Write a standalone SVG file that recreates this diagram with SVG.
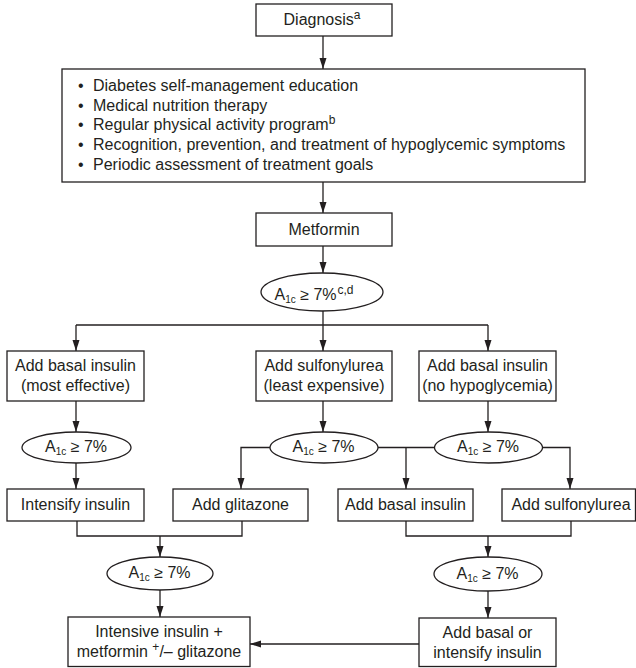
<svg xmlns="http://www.w3.org/2000/svg" width="636" height="668" viewBox="0 0 636 668">
  <defs>
    <style>
      .box { fill: #fff; stroke: #231f20; stroke-width: 1.3; }
      .dec { fill: #fff; stroke: #231f20; stroke-width: 1.3; }
      .t { font-family: "Liberation Sans", Arial, sans-serif; font-size: 16px; fill: #231f20; }
      .c { text-anchor: middle; }
      .wire { fill: none; stroke: #231f20; stroke-width: 1.3; }
      .sub { font-size: 10px; }
      .sup { font-size: 12px; }
    </style>
    <marker id="arrow" markerUnits="userSpaceOnUse" markerWidth="11" markerHeight="8" refX="11" refY="4" orient="auto">
      <path d="M0,0.5 L11,4 L0,7.5 z" fill="#231f20"/>
    </marker>
  </defs>

  <!-- connectors -->
  <g id="connectors" class="wire">
    <path d="M323,36 V69" marker-end="url(#arrow)"/>
    <path d="M323,182 V213" marker-end="url(#arrow)"/>
    <path d="M323,246 V273" marker-end="url(#arrow)"/>
    <path d="M323,311 V325"/>
    <path d="M76,325 H488"/>
    <path d="M76,325 V351" marker-end="url(#arrow)"/>
    <path d="M323,325 V351" marker-end="url(#arrow)"/>
    <path d="M488,325 V351" marker-end="url(#arrow)"/>
    <path d="M76,401 V432" marker-end="url(#arrow)"/>
    <path d="M323,401 V432" marker-end="url(#arrow)"/>
    <path d="M488,401 V432" marker-end="url(#arrow)"/>
    <path d="M76,463 V489" marker-end="url(#arrow)"/>
    <path d="M270,447.5 H241 V489" marker-end="url(#arrow)"/>
    <path d="M378,447.5 H435"/>
    <path d="M406,447.5 V489" marker-end="url(#arrow)"/>
    <path d="M542,447.5 H570 V489" marker-end="url(#arrow)"/>
    <path d="M77,521 V536 H242 V521"/>
    <path d="M160,536 V557" marker-end="url(#arrow)"/>
    <path d="M406,521 V536 H571 V521"/>
    <path d="M488,536 V557" marker-end="url(#arrow)"/>
    <path d="M160,590 V617" marker-end="url(#arrow)"/>
    <path d="M488,591 V618" marker-end="url(#arrow)"/>
    <path d="M419,644 H250" marker-end="url(#arrow)"/>
  </g>

  <g id="diagnosis">
    <rect class="box" x="256" y="4" width="136" height="32"/>
    <text class="t c" x="322" y="25">Diagnosis<tspan class="sup" dy="-6">a</tspan></text>
  </g>

  <g id="lifestyle">
    <rect class="box" x="62" y="69" width="523" height="113"/>
    <text class="t" x="78" y="91">•</text>
    <text class="t" x="93" y="91">Diabetes self-management education</text>
    <text class="t" x="78" y="110.7">•</text>
    <text class="t" x="93" y="110.7">Medical nutrition therapy</text>
    <text class="t" x="78" y="130.4">•</text>
    <text class="t" x="93" y="130.4">Regular physical activity program<tspan class="sup" dy="-6">b</tspan></text>
    <text class="t" x="78" y="150.1">•</text>
    <text class="t" x="93" y="150.1">Recognition, prevention, and treatment of hypoglycemic symptoms</text>
    <text class="t" x="78" y="169.8">•</text>
    <text class="t" x="93" y="169.8">Periodic assessment of treatment goals</text>
  </g>

  <g id="metformin">
    <rect class="box" x="256" y="213" width="136" height="33"/>
    <text class="t c" x="324" y="235">Metformin</text>
  </g>

  <g id="check-1">
    <ellipse class="dec" cx="322" cy="292" rx="61" ry="19"/>
    <text class="t c" x="314" y="300">A<tspan class="sub" dy="3">1c</tspan><tspan dy="-3"> ≥ 7%</tspan><tspan class="sup" dx="1" dy="-6">c,d</tspan></text>
  </g>

  <g id="basal-effective">
    <rect class="box" x="7" y="351" width="137" height="50"/>
    <text class="t c" x="75.5" y="371">Add basal insulin</text>
    <text class="t c" x="75.5" y="391">(most effective)</text>
  </g>

  <g id="sulfonylurea-cheap">
    <rect class="box" x="256" y="351" width="136" height="50"/>
    <text class="t c" x="324" y="371">Add sulfonylurea</text>
    <text class="t c" x="324" y="391">(least expensive)</text>
  </g>

  <g id="basal-nohypo">
    <rect class="box" x="419" y="351" width="137" height="50"/>
    <text class="t c" x="487.5" y="371">Add basal insulin</text>
    <text class="t c" x="487.5" y="391">(no hypoglycemia)</text>
  </g>

  <g id="check-2a">
    <ellipse class="dec" cx="76.5" cy="447.5" rx="54.5" ry="15.5"/>
    <text class="t c" x="76" y="452">A<tspan class="sub" dy="3">1c</tspan><tspan dy="-3"> ≥ 7%</tspan></text>
  </g>

  <g id="check-2b">
    <ellipse class="dec" cx="324" cy="447.5" rx="54" ry="15.5"/>
    <text class="t c" x="323.5" y="452">A<tspan class="sub" dy="3">1c</tspan><tspan dy="-3"> ≥ 7%</tspan></text>
  </g>

  <g id="check-2c">
    <ellipse class="dec" cx="488.5" cy="447.5" rx="54" ry="15.5"/>
    <text class="t c" x="488" y="452">A<tspan class="sub" dy="3">1c</tspan><tspan dy="-3"> ≥ 7%</tspan></text>
  </g>

  <g id="intensify">
    <rect class="box" x="7" y="489" width="137" height="32"/>
    <text class="t c" x="75.5" y="510">Intensify insulin</text>
  </g>

  <g id="glitazone">
    <rect class="box" x="173" y="489" width="135" height="32"/>
    <text class="t c" x="240.5" y="510">Add glitazone</text>
  </g>

  <g id="add-basal">
    <rect class="box" x="338" y="489" width="135" height="32"/>
    <text class="t c" x="405.5" y="510">Add basal insulin</text>
  </g>

  <g id="add-sulfonylurea">
    <rect class="box" x="502" y="489" width="133.5" height="32"/>
    <text class="t c" x="571" y="510">Add sulfonylurea</text>
  </g>

  <g id="check-3a">
    <ellipse class="dec" cx="160" cy="573.5" rx="53" ry="16.5"/>
    <text class="t c" x="159.5" y="578">A<tspan class="sub" dy="3">1c</tspan><tspan dy="-3"> ≥ 7%</tspan></text>
  </g>

  <g id="check-3b">
    <ellipse class="dec" cx="488" cy="574" rx="54" ry="17"/>
    <text class="t c" x="487.5" y="578.5">A<tspan class="sub" dy="3">1c</tspan><tspan dy="-3"> ≥ 7%</tspan></text>
  </g>

  <g id="intensive-insulin">
    <rect class="box" x="68" y="617" width="182" height="49.5"/>
    <text class="t c" x="159" y="637">Intensive insulin +</text>
    <text class="t c" x="159" y="657">metformin <tspan class="sup" dy="-6">+</tspan><tspan dy="6">/– glitazone</tspan></text>
  </g>

  <g id="basal-or-intensify">
    <rect class="box" x="419" y="618" width="137" height="48.5"/>
    <text class="t c" x="487.5" y="638">Add basal or</text>
    <text class="t c" x="487.5" y="658">intensify insulin</text>
  </g>
</svg>
